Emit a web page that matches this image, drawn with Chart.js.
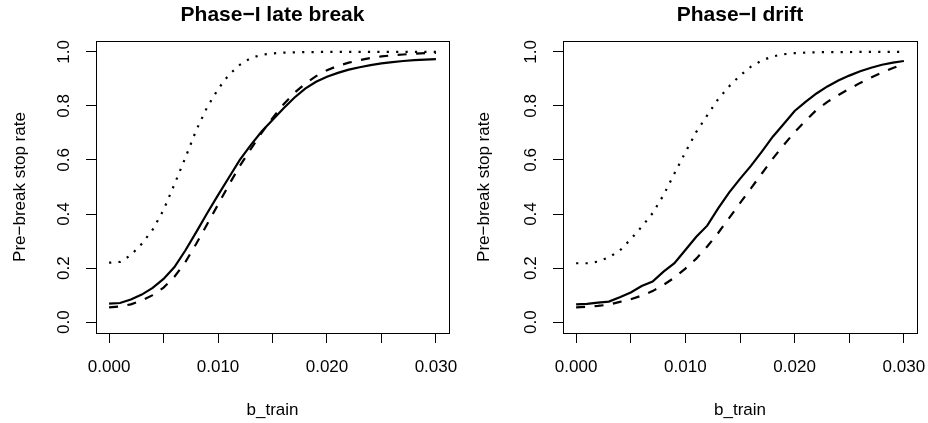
<!DOCTYPE html>
<html>
<head>
<meta charset="utf-8">
<script src="https://cdn.jsdelivr.net/npm/chart.js@4/dist/chart.umd.min.js"></script>
<style>
  body { margin: 0; background: #fff; }
  .panel { position: absolute; top: 0; }
</style>
</head>
<body>
<canvas id="lateBreak" class="panel" width="464" height="423" style="left:0"></canvas>
<canvas id="drift" class="panel" width="464" height="423" style="left:464px"></canvas>
<script>
// b_train grid
const bTrain = [0, 0.001, 0.002, 0.003, 0.004, 0.005, 0.006, 0.007, 0.008, 0.009, 0.010,
  0.011, 0.012, 0.013, 0.014, 0.015, 0.016, 0.017, 0.018, 0.019, 0.020,
  0.021, 0.022, 0.023, 0.024, 0.025, 0.026, 0.027, 0.028, 0.029, 0.030];

// Phase-I late break
const lateSolid = [0.069, 0.071, 0.084, 0.102, 0.127, 0.160, 0.204, 0.265, 0.333, 0.403, 0.470,
  0.535, 0.600, 0.655, 0.705, 0.748, 0.790, 0.830, 0.864, 0.889, 0.908,
  0.922, 0.934, 0.943, 0.951, 0.957, 0.962, 0.966, 0.969, 0.971, 0.973];
const lateDashed = [0.055, 0.058, 0.066, 0.080, 0.100, 0.128, 0.168, 0.222, 0.290, 0.362, 0.435,
  0.508, 0.578, 0.640, 0.700, 0.755, 0.805, 0.848, 0.882, 0.910, 0.932,
  0.948, 0.960, 0.969, 0.977, 0.983, 0.987, 0.990, 0.993, 0.995, 0.996];
const lateDotted = [0.220, 0.223, 0.248, 0.290, 0.342, 0.415, 0.510, 0.608, 0.710, 0.795, 0.862,
  0.915, 0.952, 0.977, 0.989, 0.994, 0.997, 0.998, 0.999, 0.999, 1.000,
  1.000, 1.000, 1.000, 1.000, 1.000, 1.000, 1.000, 1.000, 1.000, 1.000];

// Phase-I drift
const driftSolid = [0.066, 0.068, 0.072, 0.076, 0.092, 0.110, 0.134, 0.150, 0.187, 0.218, 0.267,
  0.316, 0.357, 0.421, 0.479, 0.530, 0.578, 0.631, 0.686, 0.733, 0.781,
  0.815, 0.846, 0.872, 0.894, 0.912, 0.928, 0.941, 0.952, 0.960, 0.966];
const driftDashed = [0.055, 0.057, 0.060, 0.065, 0.075, 0.085, 0.098, 0.115, 0.138, 0.165, 0.198,
  0.235, 0.280, 0.330, 0.385, 0.440, 0.495, 0.550, 0.605, 0.655, 0.703,
  0.745, 0.785, 0.815, 0.840, 0.863, 0.885, 0.905, 0.923, 0.940, 0.955];
const driftDotted = [0.218, 0.218, 0.224, 0.240, 0.265, 0.307, 0.353, 0.403, 0.470, 0.550, 0.628,
  0.704, 0.765, 0.825, 0.872, 0.912, 0.945, 0.968, 0.983, 0.991, 0.995,
  0.997, 0.998, 0.999, 0.999, 0.999, 1.000, 1.000, 1.000, 1.000, 1.000];

// axis ticks
const xTicks = [0, 0.005, 0.010, 0.015, 0.020, 0.025, 0.030];
const xTickLabels = ['0.000', '', '0.010', '', '0.020', '', '0.030'];
const yTicks = [0, 0.2, 0.4, 0.6, 0.8, 1.0];
const yTickLabels = ['0.0', '0.2', '0.4', '0.6', '0.8', '1.0'];

const FONT = '"Liberation Sans", Arial, Helvetica, sans-serif';
Chart.defaults.font.family = FONT;
Chart.defaults.color = '#000';

// Title centred over the plot box, like R's main=
const panelTitle = {
  id: 'panelTitle',
  afterDraw(chart, args, opts) {
    const {ctx, chartArea} = chart;
    ctx.save();
    ctx.font = 'bold 21px ' + FONT;
    ctx.fillStyle = '#000';
    ctx.textAlign = 'center';
    ctx.textBaseline = 'middle';
    ctx.fillText(opts.text, (chartArea.left + chartArea.right) / 2, 15);
    ctx.restore();
  }
};

// Full box around the plot region
const plotBox = {
  id: 'plotBox',
  afterDraw(chart) {
    const {ctx, chartArea} = chart;
    ctx.save();
    ctx.strokeStyle = '#000';
    ctx.lineWidth = 1;
    ctx.strokeRect(Math.round(chartArea.left) + 0.5, Math.round(chartArea.top) + 0.5,
      Math.round(chartArea.right - chartArea.left), Math.round(chartArea.bottom - chartArea.top));
    ctx.restore();
  }
};

function series(values, dash, width) {
  return {
    data: values.map((v, i) => ({x: bTrain[i], y: v})),
    borderColor: '#000',
    borderWidth: width,
    borderDash: dash,
    borderCapStyle: 'butt',
    pointRadius: 0,
    fill: false,
    tension: 0
  };
}

// no extra label padding, the plot box is placed by layout padding
function noPad(s) {
  s.paddingLeft = 0;
  s.paddingRight = 0;
  s.paddingTop = 0;
  s.paddingBottom = 0;
}

function buildPanel(id, title, solid, dashed, dotted, axisWidth, rightPad) {
  return new Chart(id, {
    type: 'line',
    data: {
      datasets: [
        series(solid, [], 2.2),
        series(dashed, [9, 9.5], 2.2),
        series(dotted, [2.2, 7.2], 2.2)
      ]
    },
    options: {
      responsive: false,
      animation: false,
      devicePixelRatio: 1,
      layout: { padding: { top: 41, right: rightPad, bottom: 0, left: 0 } },
      plugins: {
        legend: { display: false },
        tooltip: { enabled: false },
        panelTitle: { text: title }
      },
      scales: {
        x: {
          type: 'linear',
          min: -0.0012,
          max: 0.0312,
          afterBuildTicks: s => { s.ticks = xTicks.map(v => ({value: v})); },
          afterFit: s => { s.height = 90; noPad(s); },
          grid: { drawOnChartArea: false, drawTicks: true, tickLength: 10, color: '#000' },
          border: { display: false },
          ticks: {
            callback: (v, i) => xTickLabels[i],
            autoSkip: false,
            maxRotation: 0,
            padding: 14,
            font: { size: 17 }
          },
          title: { display: true, text: 'b_train', font: { size: 17 }, padding: { top: 0, bottom: 2 } }
        },
        y: {
          type: 'linear',
          min: -0.04,
          max: 1.04,
          afterBuildTicks: s => { s.ticks = yTicks.map(v => ({value: v})); },
          afterFit: s => { s.width = axisWidth; noPad(s); },
          grid: { drawOnChartArea: false, drawTicks: true, tickLength: 10, color: '#000' },
          border: { display: false },
          ticks: {
            callback: (v, i) => yTickLabels[i],
            autoSkip: false,
            minRotation: 90,
            maxRotation: 90,
            crossAlign: 'center',
            padding: 10,
            font: { size: 17 }
          },
          title: { display: true, text: 'Pre−break stop rate', font: { size: 17 }, padding: { top: 10, bottom: 0 } }
        }
      }
    },
    plugins: [panelTitle, plotBox]
  });
}

buildPanel('lateBreak', 'Phase−I late break', lateSolid, lateDashed, lateDotted, 96, 15);
buildPanel('drift', 'Phase−I drift', driftSolid, driftDashed, driftDotted, 99, 11);
</script>
</body>
</html>
